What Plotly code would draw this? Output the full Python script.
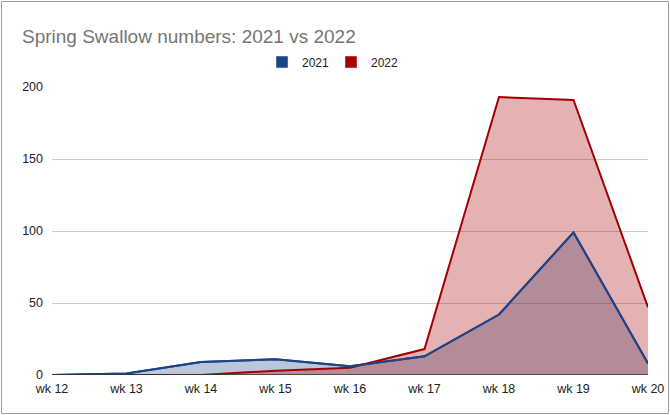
import plotly.graph_objects as go

weeks = ["wk 12", "wk 13", "wk 14", "wk 15", "wk 16", "wk 17", "wk 18", "wk 19", "wk 20"]
y2021 = [0, 1, 9, 11, 6, 13, 42, 99, 8]
y2022 = [0, 0, 0, 3, 5, 18, 193, 191, 47]
y_ticks = [0, 50, 100, 150, 200]

c2021 = "#1c4587"
c2022 = "#a30000"

fig = go.Figure()
# fills
fig.add_trace(go.Scatter(x=weeks, y=y2021, name="2021", mode="lines", fill="tozeroy",
                         line=dict(color=c2021, width=2),
                         fillcolor="rgba(28,69,135,0.3)", showlegend=False))
fig.add_trace(go.Scatter(x=weeks, y=y2022, name="2022", mode="lines", fill="tozeroy",
                         line=dict(color=c2022, width=2),
                         fillcolor="rgba(166,0,0,0.3)", showlegend=False))
# 2021 line on top
fig.add_trace(go.Scatter(x=weeks, y=y2021, name="2021", mode="lines",
                         line=dict(color=c2021, width=2), showlegend=False))
# legend squares
fig.add_trace(go.Bar(x=[None], y=[None], name="2021", marker=dict(color=c2021)))
fig.add_trace(go.Bar(x=[None], y=[None], name="2022", marker=dict(color="#aa0000")))

W, H = 670, 415
L, R, T, B = 52, 22, 87, 40
pw, ph = W - L - R, H - T - B

def px(x):
    return (x - L) / pw

def py(y):
    return (H - B - y) / ph

fig.update_layout(
    width=W, height=H,
    margin=dict(l=L, r=R, t=T, b=B, autoexpand=False),
    paper_bgcolor="white", plot_bgcolor="white",
    font=dict(family="Liberation Sans, Arial, sans-serif", size=12, color="#222222"),
    title=dict(text="Spring Swallow numbers: 2021 vs 2022", x=22 / W, xanchor="left",
               y=1 - 36 / H, yanchor="middle",
               font=dict(size=19, color="#757575")),
    showlegend=True,
    legend=dict(orientation="h", x=px(331), xanchor="center", y=py(62), yanchor="middle",
                font=dict(size=12, color="#222222"), itemwidth=30,
                entrywidth=24, entrywidthmode="pixels",
                traceorder="normal", bgcolor="rgba(0,0,0,0)"),
    xaxis=dict(type="category", range=[0, len(weeks) - 1], showgrid=False,
               showline=False, ticks="", tickfont=dict(size=12.5, color="#222222"),
               zeroline=False, ticklabelstandoff=4),
    yaxis=dict(range=[0, 200], tickvals=y_ticks, showgrid=True, gridcolor="#cccccc",
               gridwidth=1, zeroline=False, showline=False, ticks="",
               tickfont=dict(size=12.5, color="#222222"), ticklabelstandoff=8),
    shapes=[
        dict(type="rect", xref="paper", yref="paper", x0=px(1.5), x1=px(668.5),
             y0=py(413.5), y1=py(1.5), line=dict(color="#9e9e9e", width=1),
             fillcolor="rgba(0,0,0,0)", layer="above"),
        dict(type="line", xref="paper", yref="y", x0=0, x1=1, y0=0, y1=0,
             line=dict(color="#333333", width=1.5), layer="above"),
    ],
)

fig.write_html("out.html")
